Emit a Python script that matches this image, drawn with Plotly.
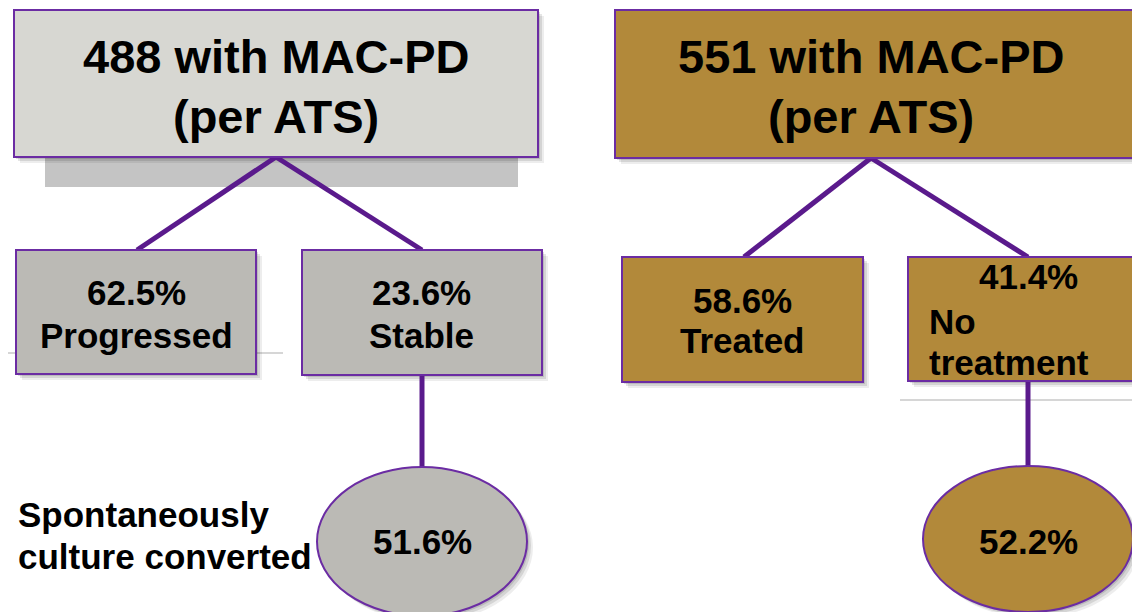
import plotly.graph_objects as go

# ---------------- data ----------------
cohort_n = [488, 551]
cohort_title_suffix = ["with MAC-PD", "with MAC-PD"]
cohort_sub = ["(per ATS)", "(per ATS)"]
branch_pct = [[62.5, 23.6], [58.6, 41.4]]
branch_labels = [["Progressed", "Stable"], ["Treated", "No treatment"]]
leaf_pct = [51.6, 52.2]
leaf_note = ["Spontaneously", "culture converted"]

# ---------------- styling / layout geometry ----------------
W, H = 1132, 612
PURPLE = "#5a1a8c"
BORDER = "#6b2ca3"
FONT = "Arial, Liberation Sans, sans-serif"
top_fill = ["#d7d7d2", "#b2893a"]
mid_fill = ["#bbbab5", "#b2893a"]
leaf_fill = ["#bbbab5", "#b2893a"]

top_box = [(14, 10, 538, 157), (615, 10, 1145, 158)]
top_cx = [276, 871]
mid_box = [[(16, 250, 256, 374), (302, 250, 542, 375)],
           [(622, 257, 863, 382), (908, 257, 1145, 381)]]
mid_anchor = [[137, 422], [744, 1028]]
leaf_box = [(317, 467, 527, 616), (923, 466, 1133, 612)]

fig = go.Figure()
shapes = []
ann = []

def shadow(x0, y0, x1, y1, kind="rect"):
    for d, a in [(6, 0.07), (4, 0.10), (2, 0.12)]:
        shapes.append(dict(type=kind, xref="x", yref="y", x0=x0 + d, y0=y0 + d,
                           x1=x1 + d, y1=y1 + d, line=dict(width=0),
                           fillcolor=f"rgba(0,0,0,{a})", layer="below"))

# faint artifact lines
shapes.append(dict(type="line", xref="x", yref="y", x0=8, y0=353, x1=283, y1=353,
                   line=dict(color="#d6d6d6", width=2), layer="below"))
shapes.append(dict(type="line", xref="x", yref="y", x0=900, y0=400, x1=1132, y1=400,
                   line=dict(color="#d6d6d6", width=2), layer="below"))

# gray block under left title box
shapes.append(dict(type="rect", xref="x", yref="y", x0=45, y0=157, x1=518, y1=187,
                   line=dict(width=0), fillcolor="#c4c4c4", layer="below"))

for k in range(2):
    x0, y0, x1, y1 = top_box[k]
    # connectors
    for j in range(2):
        bx = mid_box[k][j]
        shapes.append(dict(type="line", xref="x", yref="y", x0=top_cx[k], y0=y1,
                           x1=mid_anchor[k][j], y1=bx[1],
                           line=dict(color=PURPLE, width=5)))
    vx = mid_anchor[k][1]
    shapes.append(dict(type="line", xref="x", yref="y", x0=vx, y0=mid_box[k][1][3],
                       x1=vx, y1=leaf_box[k][1], line=dict(color=PURPLE, width=5)))

    shadow(x0, y0, x1, y1)
    shapes.append(dict(type="rect", xref="x", yref="y", x0=x0, y0=y0, x1=x1, y1=y1,
                       line=dict(color=BORDER, width=2), fillcolor=top_fill[k]))
    ann.append(dict(x=top_cx[k], y=56, text=f"<b>{cohort_n[k]} {cohort_title_suffix[k]}</b>",
                    font=dict(size=47)))
    ann.append(dict(x=top_cx[k], y=116, text=f"<b>{cohort_sub[k]}</b>", font=dict(size=47)))

    for j in range(2):
        bx0, by0, bx1, by1 = mid_box[k][j]
        shadow(bx0, by0, bx1, by1)
        shapes.append(dict(type="rect", xref="x", yref="y", x0=bx0, y0=by0, x1=bx1, y1=by1,
                           line=dict(color=BORDER, width=2), fillcolor=mid_fill[k]))

    lx0, ly0, lx1, ly1 = leaf_box[k]
    shadow(lx0, ly0, lx1, ly1, kind="circle")
    shapes.append(dict(type="circle", xref="x", yref="y", x0=lx0, y0=ly0, x1=lx1, y1=ly1,
                       line=dict(color=BORDER, width=2), fillcolor=leaf_fill[k]))
    ann.append(dict(x=(lx0 + lx1) / 2, y=541, text=f"<b>{leaf_pct[k]}%</b>", font=dict(size=35)))

# mid-level texts
ann.append(dict(x=136, y=292, text=f"<b>{branch_pct[0][0]}%</b>", font=dict(size=35)))
ann.append(dict(x=136, y=335, text=f"<b>{branch_labels[0][0]}</b>", font=dict(size=35)))
ann.append(dict(x=421, y=292, text=f"<b>{branch_pct[0][1]}%</b>", font=dict(size=35)))
ann.append(dict(x=421, y=335, text=f"<b>{branch_labels[0][1]}</b>", font=dict(size=35)))
ann.append(dict(x=742, y=300, text=f"<b>{branch_pct[1][0]}%</b>", font=dict(size=35)))
ann.append(dict(x=742, y=340, text=f"<b>{branch_labels[1][0]}</b>", font=dict(size=35)))
ann.append(dict(x=1028, y=276, text=f"<b>{branch_pct[1][1]}%</b>", font=dict(size=35)))
no_w, treat_w = branch_labels[1][1].split(" ", 1)
ann.append(dict(x=927, y=321, text=f"<b>{no_w}</b>", font=dict(size=35), xanchor="left"))
ann.append(dict(x=927, y=362, text=f"<b>{treat_w}</b>", font=dict(size=35), xanchor="left"))

# leaf note
ann.append(dict(x=16, y=514, text=f"<b>{leaf_note[0]}</b>", font=dict(size=35), xanchor="left"))
ann.append(dict(x=16, y=556, text=f"<b>{leaf_note[1]}</b>", font=dict(size=35), xanchor="left"))

for a in ann:
    a.setdefault("xanchor", "center")
    a.update(xref="x", yref="y", yanchor="middle", showarrow=False)
    a["font"].update(family=FONT, color="#000000")

fig.update_layout(
    width=W, height=H, margin=dict(l=0, r=0, t=0, b=0),
    paper_bgcolor="white", plot_bgcolor="white",
    xaxis=dict(range=[0, W], visible=False, fixedrange=True),
    yaxis=dict(range=[H, 0], visible=False, fixedrange=True),
    shapes=shapes, annotations=ann, showlegend=False,
)
fig.write_html("out.html", config={"displayModeBar": False},
               post_script="document.body.style.margin='0';document.body.style.overflow='hidden';")
